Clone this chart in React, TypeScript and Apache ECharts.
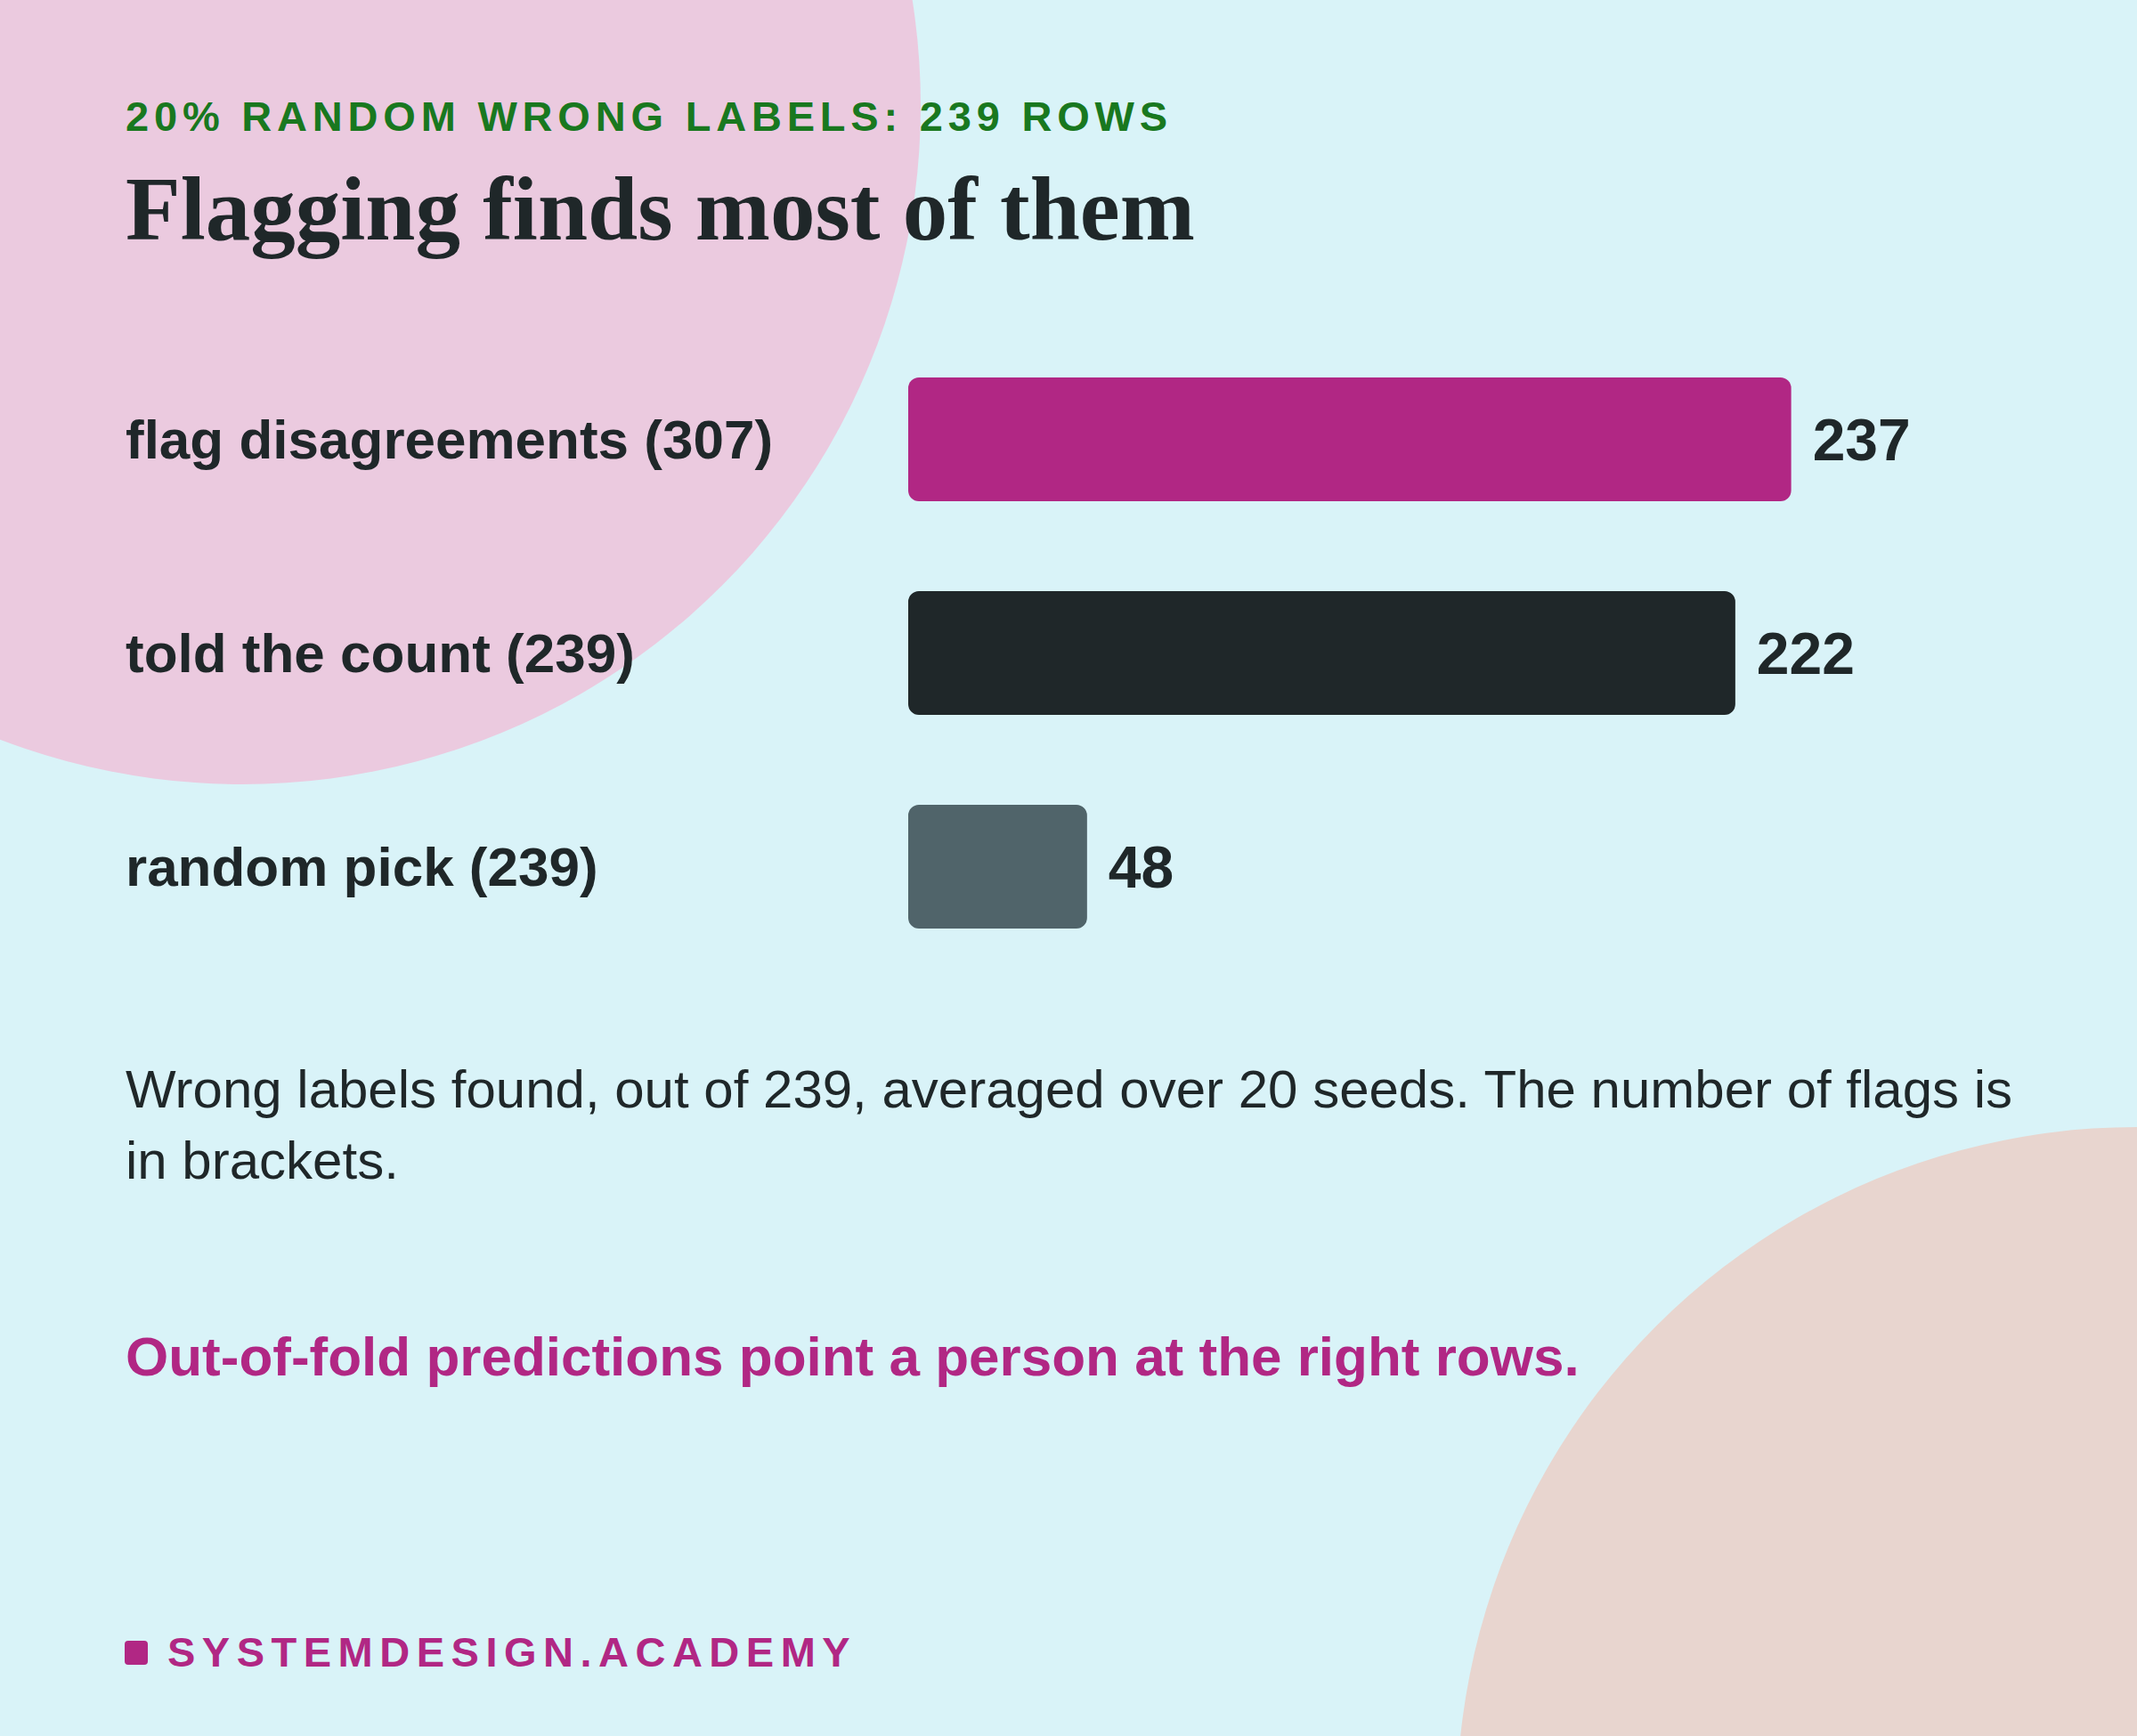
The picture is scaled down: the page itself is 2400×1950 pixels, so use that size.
import React, { useEffect, useRef } from 'react';
import * as echarts from 'echarts';

// chart data
const categories = ['flag disagreements (307)', 'told the count (239)', 'random pick (239)'];
const found = [237, 222, 48];
const totalWrong = 239;
const barColors = ['#b12784', '#1f2729', '#50646a'];

// texts
const kicker = '20% RANDOM WRONG LABELS: 239 ROWS';
const title = 'Flagging finds most of them';
const caption = [
  'Wrong labels found, out of 239, averaged over 20 seeds. The number of flags is',
  'in brackets.'
];
const takeaway = 'Out-of-fold predictions point a person at the right rows.';
const brand = 'SYSTEMDESIGN.ACADEMY';

const SANS = 'Liberation Sans';
const SERIF = 'Liberation Serif';
const INK = '#1f2729';
const MAGENTA = '#b12784';
const GREEN = '#19781f';

const App = () => {
  const chartRef = useRef<HTMLDivElement>(null);

  useEffect(() => {
    const dom = chartRef.current!;
    const chart = echarts.init(dom, null, { renderer: 'svg' });

    const option: any = {
      animation: false,
      backgroundColor: '#d9f3f8',
      grid: { left: 1020, top: 373.5, width: 1000, height: 720 },
      xAxis: { type: 'value', min: 0, max: totalWrong, show: false },
      yAxis: {
        type: 'category',
        data: categories,
        inverse: true,
        axisLine: { show: false },
        axisTick: { show: false },
        splitLine: { show: false },
        axisLabel: {
          align: 'left',
          margin: 879,
          fontSize: 62,
          fontWeight: 'bold',
          fontFamily: SANS,
          color: INK
        }
      },
      series: [
        {
          type: 'bar',
          silent: true,
          barWidth: 139,
          data: found.map((v, i) => ({ value: v, itemStyle: { color: barColors[i] } })),
          itemStyle: { borderRadius: 12 },
          label: {
            show: true,
            position: 'right',
            distance: 24,
            fontSize: 66,
            fontWeight: 'bold',
            fontFamily: SANS,
            color: INK
          }
        }
      ],
      graphic: [
        // background blobs
        { type: 'circle', silent: true, shape: { cx: 272, cy: 119, r: 762 }, style: { fill: '#ebcadf' } },
        { type: 'circle', silent: true, shape: { cx: 2400, cy: 2030, r: 764 }, style: { fill: '#e8d5cf' } },
        {
          type: 'text', silent: true, x: 141, y: 130.7,
          style: { text: kicker, fontSize: 47, fontWeight: 'bold', fontFamily: SANS, fill: GREEN, verticalAlign: 'middle' }
        },
        {
          type: 'text', silent: true, x: 141, y: 235,
          style: { text: title, fontSize: 101, fontWeight: 'bold', fontFamily: SERIF, fill: INK, verticalAlign: 'middle' }
        },
        {
          type: 'text', silent: true, x: 141, y: 1263.2,
          style: { text: caption.join('\n'), fontSize: 60, lineHeight: 80, fontFamily: SANS, fill: INK, verticalAlign: 'middle' }
        },
        {
          type: 'text', silent: true, x: 141, y: 1523.5,
          style: { text: takeaway, fontSize: 62, fontWeight: 'bold', fontFamily: SANS, fill: MAGENTA, verticalAlign: 'middle' }
        },
        {
          type: 'rect', silent: true,
          shape: { x: 140, y: 1843, width: 26, height: 27, r: 4 },
          style: { fill: MAGENTA }
        },
        {
          type: 'text', silent: true, x: 188, y: 1855.7,
          style: { text: brand, fontSize: 47, fontWeight: 'bold', fontFamily: SANS, fill: MAGENTA, verticalAlign: 'middle' }
        }
      ]
    };

    chart.setOption(option);

    // zrender has no letter-spacing, so the spaced caps get it on the svg text
    dom.querySelectorAll('text').forEach((t) => {
      if (t.textContent === kicker) t.setAttribute('letter-spacing', '5.8');
      if (t.textContent === brand) t.setAttribute('letter-spacing', '7.5');
    });

    return () => {
      chart.dispose();
    };
  }, []);

  return (
    <div
      ref={chartRef}
      style={{ position: 'absolute', left: 0, top: 0, width: 2400, height: 1950 }}
    ></div>
  );
};

export default App;
